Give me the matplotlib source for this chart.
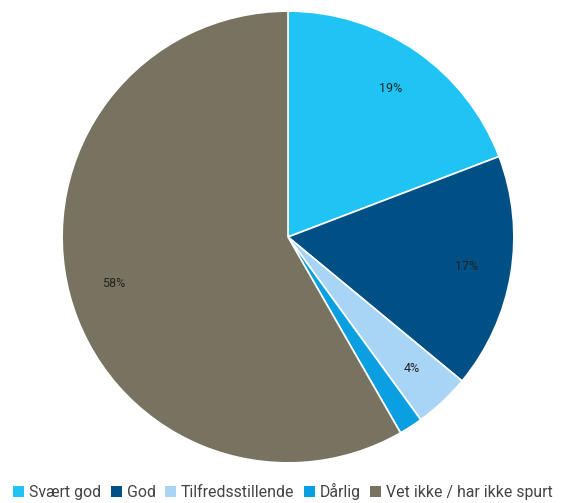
import matplotlib
matplotlib.use('Agg')
import matplotlib.pyplot as plt
from matplotlib.patches import Patch

labels = ['Svært god', 'God', 'Tilfredsstillende', 'Dårlig', 'Vet ikke / har ikke spurt']
values = [19.2, 16.8, 4.0, 1.7, 58.3]
colors = ['#1fc4f4', '#004f85', '#a8d4f5', '#0a9fe0', '#777360']

plt.rcParams['font.family'] = ['Roboto', 'DejaVu Sans']


def pct_label(p):
    if p < 3:
        return ''
    return '%.0f%%' % p


fig = plt.figure(figsize=(5.66, 5.03), dpi=100)
ax = fig.add_axes([61 / 566, 39 / 503, 454 / 566, 454 / 503])
wedges, texts, autotexts = ax.pie(values, colors=colors, startangle=90, counterclock=False,
                                  autopct=pct_label, pctdistance=0.8,
                                  wedgeprops={'edgecolor': 'white', 'linewidth': 1.2},
                                  textprops={'fontsize': 9, 'color': '#222222'})
ax.set_xlim(-1.005, 1.005)
ax.set_ylim(-1.005, 1.005)
ax.set_aspect('equal')

handles = [Patch(facecolor=c, edgecolor='none') for c in colors]
fig.legend(handles, labels, loc='center', bbox_to_anchor=(0.5, 0.022), ncol=5,
           frameon=False, fontsize=11.4, handlelength=0.7, handleheight=0.7,
           handletextpad=0.3, columnspacing=0.6, labelcolor='#444444')

fig.savefig('out.png', dpi=100)
